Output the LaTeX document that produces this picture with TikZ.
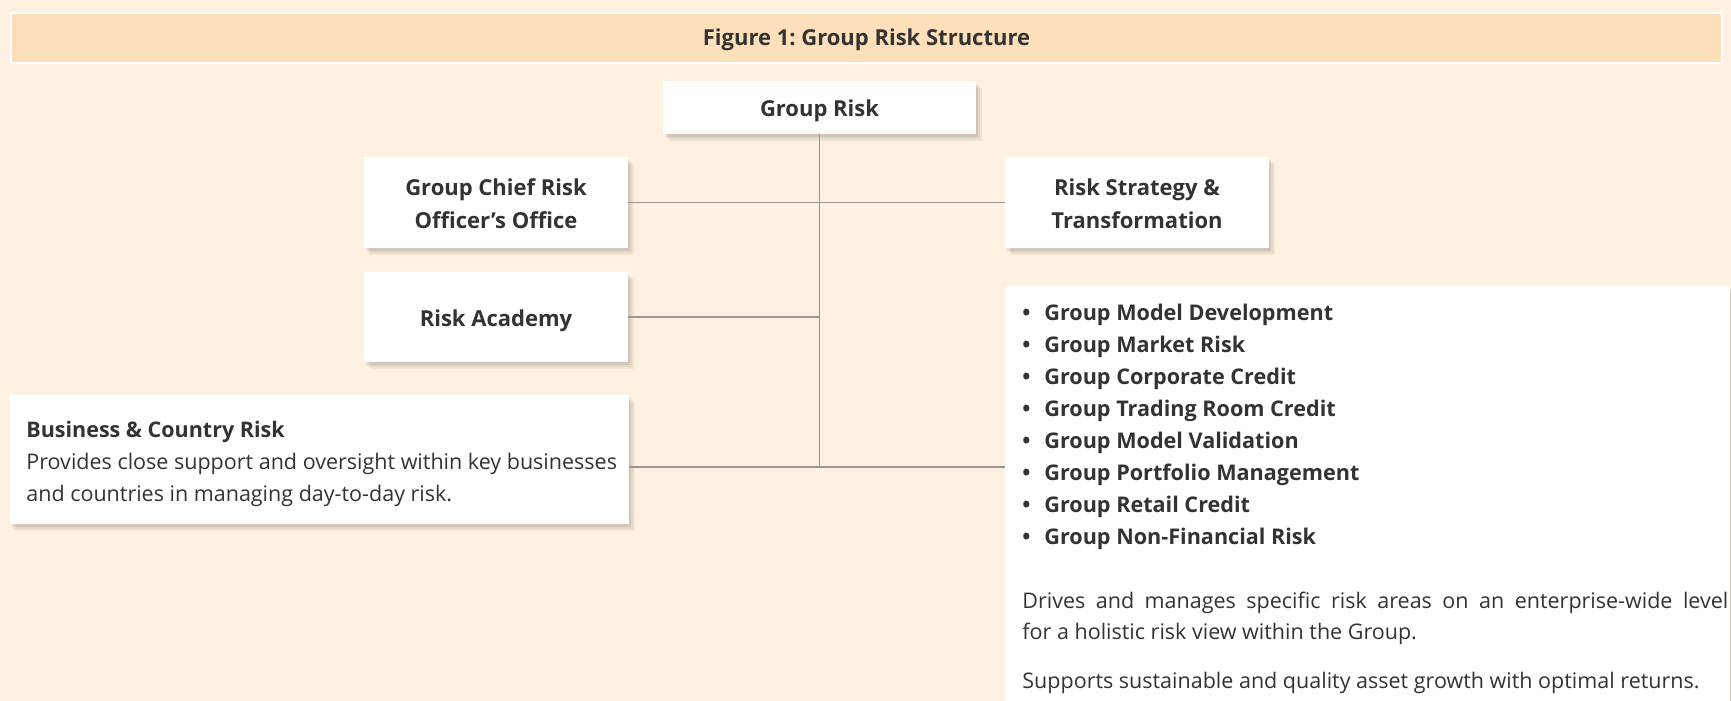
\documentclass[tikz,border=0pt]{standalone}
\usepackage{fontspec}
\setmainfont{Open Sans}
\usetikzlibrary{shadows}
\frenchspacing
\definecolor{bg}{RGB}{254,241,225}
\definecolor{titlefill}{RGB}{253,224,185}
\definecolor{txt}{RGB}{51,51,51}
\definecolor{conncol}{RGB}{150,150,150}
\tikzset{
  card/.style={fill=white, draw=none, inner sep=0pt, outer sep=0pt,
    drop shadow={shadow xshift=3pt, shadow yshift=-3.5pt, opacity=0.05, fill=black},
    drop shadow={shadow xshift=2pt, shadow yshift=-2.5pt, opacity=0.06, fill=black},
    drop shadow={shadow xshift=1pt, shadow yshift=-1.5pt, opacity=0.07, fill=black}},
  lab/.style={text=txt, font=\bfseries\fontsize{11}{16.5}\selectfont, align=center,
    text height=9pt, text depth=0pt},
  labtwo/.style={lab, text height=25.5pt},
  bodytxt/.style={text=txt, font=\fontsize{10.75}{16}\selectfont, inner sep=0pt, anchor=base west},
  bodyb/.style={bodytxt, font=\bfseries\fontsize{10.8}{16}\selectfont},
  connline/.style={draw=conncol, line width=0.6pt}
}
\begin{document}
\begin{tikzpicture}[x=0.5pt,y=-0.5pt]
\useasboundingbox (0,0) rectangle (1731,701);
\fill[bg] (0,0) rectangle (1731,701);
\node[draw=white, line width=1pt, fill=titlefill, minimum width=855.5pt, minimum height=25pt,
  inner sep=0pt, text=txt, text height=7.85pt, text depth=0pt,
  font=\bfseries\fontsize{11}{13}\selectfont] (title) at (866.5,38)
  {Figure 1: Group Risk Structure};
% cards
\node[card, lab, minimum width=156.5pt, minimum height=26.5pt] (gr) at (819.5,107.5) {Group Risk};
\node[card, labtwo, minimum width=132pt, minimum height=45.5pt] (gcro) at (496,202.5) {Group Chief Risk\\Officer’s Office};
\node[card, lab, minimum width=132pt, minimum height=45pt] (ra) at (496,317) {Risk Academy};
\node[card, labtwo, minimum width=132pt, minimum height=45.5pt] (rst) at (1137,202.5) {Risk Strategy \&\\Transformation};
\node[card, minimum width=309.5pt, minimum height=64.5pt] (bcr) at (319.5,459.5) {};
\node[card, minimum width=362.5pt, minimum height=213pt] (grp) at (1367.5,499) {};
% connectors
\coordinate (j) at (819.5,467);
\draw[connline] (gcro.east) -- (rst.west);
\draw[connline] (gr.south) -- (j);
\draw[connline] (ra.east) -- (ra.east -| gr.south);
\draw[connline] (bcr.east |- j) -- (grp.west |- j);
% business text
\node[bodyb, font=\bfseries\fontsize{10.75}{16}\selectfont] (bt) at (26,437) {Business \& Country Risk};
\node[bodytxt] (b1) at (26,469) {Provides close support and oversight within key businesses};
\node[bodytxt] (b2) at (26,501) {and countries in managing day-to-day risk.};
% list
\foreach \itm [count=\i] in {Group Model Development, Group Market Risk, Group Corporate Credit,
  Group Trading Room Credit, Group Model Validation, Group Portfolio Management,
  Group Retail Credit, Group Non-Financial Risk} {
  \node[bodyb] (item\i) at (1022,{320+32*(\i-1)}) {\makebox[11pt][l]{•}\itm};
}
\node[bodytxt] (p1) at (1022,608) {\makebox[353pt][s]{Drives and manages specific risk areas on an enterprise-wide level}};
\node[bodytxt] (p2) at (1022,639) {for a holistic risk view within the Group.};
\node[bodytxt] (p3) at (1022,688) {Supports sustainable and quality asset growth with optimal returns.};
\end{tikzpicture}
\end{document}
